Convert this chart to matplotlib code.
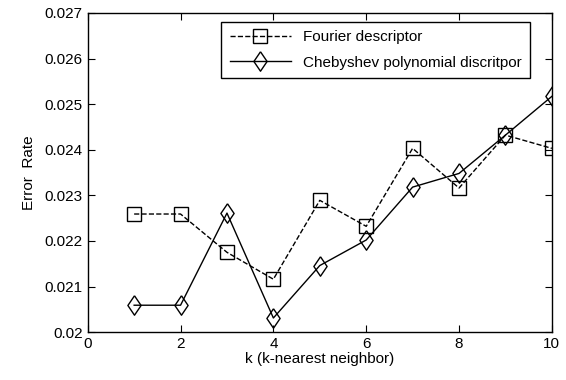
import matplotlib.pyplot as plt

k = [1, 2, 3, 4, 5, 6, 7, 8, 9, 10]
fourier = [0.02259, 0.02259, 0.02175, 0.02116, 0.02289, 0.02232,
           0.02403, 0.02316, 0.02432, 0.02403]
chebyshev = [0.02059, 0.02059, 0.02261, 0.02031, 0.02146, 0.02202,
             0.02318, 0.02348, 0.02432, 0.02517]

plt.rcParams["font.family"] = ["Liberation Sans", "DejaVu Sans"]
plt.rcParams["font.size"] = 11

fig = plt.figure(figsize=(5.66, 3.8), dpi=100)
ax = fig.add_axes([0.155, 0.126, 0.82, 0.84])

# matlab-style diamond, a bit wider than matplotlib's thin 'd'
diamond = [(0, 1), (0.68, 0), (0, -1), (-0.68, 0), (0, 1)]

ax.plot(k, fourier, "--", color="black", linewidth=1, marker="s",
        markersize=10, markerfacecolor="none", markeredgewidth=1,
        label="Fourier descriptor")
ax.plot(k, chebyshev, "-", color="black", linewidth=1, marker=diamond,
        markersize=14, markerfacecolor="none", markeredgewidth=1,
        label="Chebyshev polynomial discritpor")

ax.set_xlim(0, 10)
ax.set_ylim(0.020, 0.027)
ax.set_xticks([0, 2, 4, 6, 8, 10])
ax.set_yticks([0.020, 0.021, 0.022, 0.023, 0.024, 0.025, 0.026, 0.027])
ax.set_yticklabels(["0.02", "0.021", "0.022", "0.023", "0.024", "0.025",
                    "0.026", "0.027"])
ax.tick_params(direction="in", top=True, right=True, length=5)
for s in ax.spines.values():
    s.set_linewidth(1)

ax.set_xlabel("k (k-nearest neighbor)", labelpad=1)
ax.set_ylabel("Error  Rate", labelpad=6)

leg = ax.legend(loc="upper right", bbox_to_anchor=(0.953, 0.972),
                fancybox=False, edgecolor="black", framealpha=1,
                handlelength=4.0, handletextpad=0.8, borderpad=0.55,
                labelspacing=0.75, borderaxespad=0)
leg.get_frame().set_linewidth(1)

fig.savefig("out.png", dpi=100)
